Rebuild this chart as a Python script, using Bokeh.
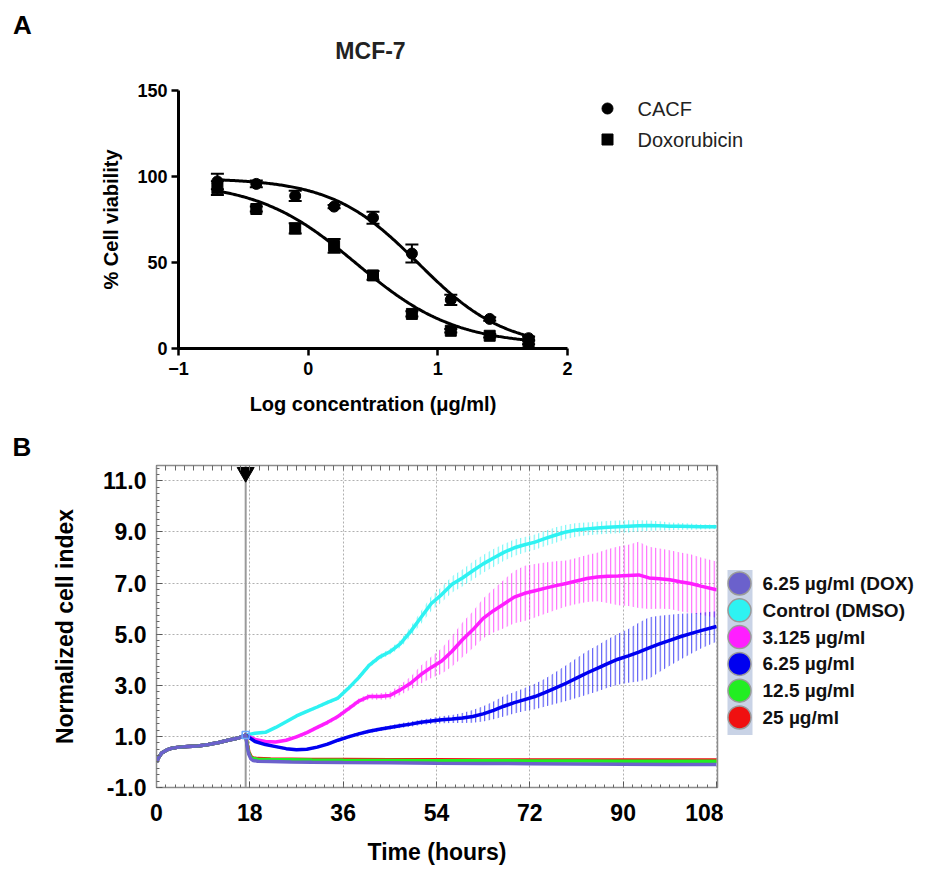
import numpy as np
from bokeh.plotting import figure
from bokeh.layouts import column, row
from bokeh.models import (Range1d, FixedTicker, Whisker, TeeHead, ColumnDataSource, LinearAxis,
                          PrintfTickFormatter, Span)
from bokeh.embed import file_html
from bokeh.resources import INLINE
from bokeh.core.properties import value

FONT = "Liberation Sans"

# ---------------- Panel A data ----------------
log_conc = [-0.7, -0.4, -0.1, 0.2, 0.5, 0.8, 1.1, 1.4, 1.7]
cacf_mean = [97.1, 95.7, 88.7, 82.5, 76.0, 55.2, 28.3, 17.2, 6.0]
cacf_err = [4.5, 2.0, 3.0, 1.0, 3.5, 5.2, 3.0, 1.0, 1.0]
dox_mean = [93.2, 81.1, 69.8, 59.6, 42.5, 20.1, 10.3, 7.4, 3.5]
dox_err = [4.0, 1.5, 3.0, 4.0, 2.5, 1.5, 1.0, 1.0, 1.0]
# four-parameter logistic fits (top, bottom, logIC50, hill slope)
cacf_fit = (99.0, 0.0, 0.85, 1.3)
dox_fit = (97.0, 2.0, 0.37, 1.14)
a_xticks = [-1, 0, 1, 2]
a_yticks = [0, 50, 100, 150]
a_legend_labels = ["CACF", "Doxorubicin"]
a_legend_markers = ["circle", "square"]

# ---------------- Panel B data ----------------
time_ticks = [0, 18, 36, 54, 72, 90, 108]
ci_ticks = [-1, 1, 3, 5, 7, 9, 11]
treat_time = 17.2
base_t = [0, 0.5, 1, 2, 3, 4, 6, 8, 10, 12, 14, 16, 17.2]
base_ci = [0.0, 0.2, 0.35, 0.47, 0.54, 0.57, 0.6, 0.62, 0.68, 0.76, 0.86, 0.95, 1.05]

post_t = [17.2, 19, 21, 23, 25, 27, 29, 31, 33, 35, 37, 39, 41, 43, 45, 47, 49, 51, 53, 55,
          57, 59, 61, 63, 65, 67, 69, 71, 73, 75, 77, 79, 81, 83, 85, 87, 89, 91, 93, 95,
          97, 99, 101, 103, 105, 108]
ctrl_ci = [1.05, 1.12, 1.16, 1.35, 1.57, 1.80, 1.98, 2.15, 2.33, 2.50, 2.88, 3.30, 3.78, 4.10,
           4.31, 4.62, 5.10, 5.65, 6.20, 6.55, 6.95, 7.20, 7.48, 7.75, 7.98, 8.20, 8.38, 8.50,
           8.60, 8.75, 8.88, 9.00, 9.08, 9.12, 9.15, 9.18, 9.20, 9.22, 9.24, 9.25, 9.24, 9.22,
           9.22, 9.21, 9.20, 9.20]
ctrl_sd = [0.02, 0.03, 0.04, 0.05, 0.05, 0.06, 0.06, 0.07, 0.07, 0.08, 0.08, 0.09, 0.1, 0.1,
           0.12, 0.15, 0.2, 0.25, 0.28, 0.3, 0.32, 0.33, 0.35, 0.35, 0.35, 0.33, 0.32, 0.3,
           0.3, 0.3, 0.3, 0.28, 0.27, 0.25, 0.25, 0.25, 0.25, 0.24, 0.22, 0.2, 0.18, 0.15,
           0.13, 0.12, 0.1, 0.08]
c3125_ci = [1.05, 0.88, 0.80, 0.78, 0.85, 0.98, 1.15, 1.35, 1.55, 1.78, 2.08, 2.38, 2.56, 2.56,
            2.60, 2.82, 3.08, 3.42, 3.70, 3.95, 4.33, 4.78, 5.17, 5.62, 5.92, 6.18, 6.45, 6.60,
            6.70, 6.80, 6.90, 6.98, 7.08, 7.18, 7.24, 7.27, 7.28, 7.30, 7.32, 7.20, 7.17, 7.13,
            7.05, 6.98, 6.88, 6.74]
c3125_sd = [0.02, 0.03, 0.04, 0.05, 0.05, 0.06, 0.07, 0.08, 0.08, 0.09, 0.1, 0.1, 0.12, 0.13,
            0.15, 0.2, 0.25, 0.35, 0.42, 0.5, 0.6, 0.68, 0.72, 0.78, 0.85, 0.95, 1.02, 1.08,
            1.05, 1.0, 0.95, 0.9, 0.9, 0.92, 0.95, 1.05, 1.15, 1.2, 1.3, 1.22, 1.18, 1.15,
            1.15, 1.15, 1.12, 1.1]
c625_ci = [1.05, 0.80, 0.68, 0.60, 0.52, 0.48, 0.50, 0.58, 0.70, 0.85, 0.98, 1.10, 1.20, 1.28,
           1.35, 1.42, 1.48, 1.55, 1.60, 1.65, 1.68, 1.72, 1.78, 1.88, 2.02, 2.18, 2.32, 2.44,
           2.56, 2.72, 2.90, 3.08, 3.28, 3.48, 3.66, 3.85, 4.02, 4.15, 4.30, 4.46, 4.62, 4.76,
           4.90, 5.02, 5.14, 5.30]
c625_sd = [0.02, 0.03, 0.04, 0.04, 0.05, 0.05, 0.05, 0.05, 0.06, 0.06, 0.06, 0.07, 0.07, 0.08,
           0.08, 0.09, 0.1, 0.1, 0.12, 0.14, 0.16, 0.2, 0.25, 0.3, 0.35, 0.4, 0.42, 0.45,
           0.5, 0.55, 0.62, 0.7, 0.78, 0.85, 0.9, 0.95, 1.0, 1.05, 1.15, 1.2, 1.1, 1.0,
           0.9, 0.8, 0.7, 0.6]
low_t = [17.2, 17.5, 17.8, 18.2, 18.6, 19.5, 22, 26, 30, 36, 45, 54, 63, 72, 81, 90, 99, 108]
c25_ci = [1.05, 0.7, 0.4, 0.22, 0.16, 0.13, 0.12, 0.11, 0.1, 0.1, 0.09, 0.09, 0.08, 0.08,
          0.08, 0.08, 0.08, 0.08]
c125_ci = [1.05, 0.65, 0.35, 0.18, 0.14, 0.11, 0.1, 0.09, 0.08, 0.07, 0.06, 0.05, 0.05, 0.04,
           0.04, 0.03, 0.03, 0.03]
dox_ci = [1.05, 0.6, 0.3, 0.12, 0.06, 0.03, 0.02, 0.0, -0.01, -0.02, -0.03, -0.05, -0.06,
          -0.07, -0.08, -0.09, -0.1, -0.1]

legend_labels = ["6.25 µg/ml (DOX)", "Control (DMSO)", "3.125 µg/ml", "6.25 µg/ml",
                 "12.5 µg/ml", "25 µg/ml"]
legend_colors = ["#6b61cc", "#2ef2f2", "#ff1eff", "#0000f0", "#22ee22", "#f01010"]
C_DOX, C_CTRL, C_3125, C_625, C_125, C_25 = legend_colors


def fourpl(x, top, bottom, logic50, hill):
    return bottom + (top - bottom) / (1 + 10 ** ((x - logic50) * hill))


def blank_fig(w, h, xr, yr):
    f = figure(width=w, height=h, output_backend="svg", toolbar_location=None,
               x_range=xr, y_range=yr, x_axis_type=None, y_axis_type=None, min_border=0,
               frame_align=False)
    f.outline_line_color = None
    f.grid.visible = False
    return f


# ================= header strip (panel letter + title) =================
header = blank_fig(927, 70, Range1d(0, 927), Range1d(70, 0))
header.text(x=[22], y=[24], text=["A"], text_font=value(FONT), text_font_style="bold",
            text_font_size="26px", text_align="center", text_baseline="middle",
            text_color="black")
header.text(x=[370], y=[50], text=["MCF-7"], text_font=value(FONT), text_font_style="bold",
            text_font_size="23px", text_align="center", text_baseline="middle",
            text_color="#222222")

# ================= Panel A =================
pa = figure(width=577, height=356, output_backend="svg", toolbar_location=None,
            x_range=Range1d(-1, 2), y_range=Range1d(0, 150),
            min_border_left=178, min_border_right=10, min_border_top=20, min_border_bottom=78)
pa.outline_line_color = None
pa.grid.visible = False
ax_ax, ax_ay = pa.xaxis[0], pa.yaxis[0]
for ax in (ax_ax, ax_ay):
    ax.axis_line_width = 3
    ax.axis_line_color = "black"
    ax.major_tick_line_width = 2.5
    ax.major_tick_line_color = "black"
    ax.major_tick_out = 7
    ax.major_tick_in = 0
    ax.minor_tick_line_color = None
    ax.major_label_text_font = FONT
    ax.major_label_text_font_style = "bold"
    ax.major_label_text_font_size = "18px"
    ax.major_label_text_color = "black"
    ax.axis_label_text_font = FONT
    ax.axis_label_text_font_style = "bold"
    ax.axis_label_text_font_size = "20px"
    ax.axis_label_text_color = "black"
ax_ax.ticker = FixedTicker(ticks=a_xticks)
ax_ay.ticker = FixedTicker(ticks=a_yticks)
ax_ax.axis_label = "Log concentration (μg/ml)"
ax_ay.axis_label = "% Cell viability"
ax_ax.major_label_standoff = 6
ax_ay.major_label_standoff = 4
ax_ax.axis_label_standoff = 15
ax_ay.axis_label_standoff = 12

xf = np.linspace(log_conc[0], log_conc[-1], 240)
pa.line(xf, fourpl(xf, *cacf_fit), line_color="black", line_width=3)
pa.line(xf, fourpl(xf, *dox_fit), line_color="black", line_width=3)

for mean, err in ((cacf_mean, cacf_err), (dox_mean, dox_err)):
    src = ColumnDataSource(dict(x=log_conc,
                                lo=[m - e for m, e in zip(mean, err)],
                                hi=[m + e for m, e in zip(mean, err)]))
    pa.add_layout(Whisker(source=src, base="x", lower="lo", upper="hi",
                          line_color="black", line_width=2,
                          upper_head=TeeHead(size=13, line_width=2, line_color="black"),
                          lower_head=TeeHead(size=13, line_width=2, line_color="black")))

pa.scatter(log_conc, cacf_mean, marker="circle", size=11, color="black")
pa.scatter(log_conc, dox_mean, marker="square", size=11, color="black")

# legend of panel A
na = len(a_legend_labels)
a_leg = blank_fig(350, 356, Range1d(0, 350), Range1d(10.258, -1.226))
a_leg.scatter(x=[30] * na, y=list(range(na)), marker=a_legend_markers, size=11, color="black")
a_leg.text(x=[60] * na, y=list(range(na)), text=a_legend_labels, text_font=value(FONT),
           text_font_size="20px", text_baseline="middle", text_color="#222222")

# ================= Panel B =================
pb = figure(width=723, height=441, output_backend="svg", toolbar_location=None,
            x_range=Range1d(0, 108.2), y_range=Range1d(-1, 11.6),
            min_border_left=156, min_border_right=6, min_border_top=39, min_border_bottom=78)
pb.outline_line_color = "#8c8c8c"
pb.outline_line_width = 1.5
bx, by = pb.xaxis[0], pb.yaxis[0]
minor_t = list(np.arange(0, 108.01, 1.8))
bx.ticker = FixedTicker(ticks=time_ticks, minor_ticks=minor_t)
by.ticker = FixedTicker(ticks=ci_ticks, minor_ticks=list(np.arange(-1, 11.6, 0.25)))
by.formatter = PrintfTickFormatter(format="%.1f")
top_ax = LinearAxis(ticker=FixedTicker(ticks=[], minor_ticks=minor_t))
pb.add_layout(top_ax, "above")
for ax in (bx, by, top_ax):
    ax.axis_line_color = "#8c8c8c"
    ax.major_tick_in = 6
    ax.major_tick_out = 0
    ax.minor_tick_in = 3
    ax.minor_tick_out = 0
    ax.major_tick_line_color = "#555555"
    ax.minor_tick_line_color = "#666666"
    ax.major_label_text_font = FONT
    ax.major_label_text_font_style = "bold"
    ax.major_label_text_color = "black"
    ax.major_label_text_font_size = "23px"
    ax.axis_label_text_font = FONT
    ax.axis_label_text_font_style = "bold"
    ax.axis_label_text_color = "black"
    ax.axis_label_text_font_size = "23px"
top_ax.minor_tick_in = 5
top_ax.major_label_standoff = 0
bx.major_label_standoff = 16
by.major_label_standoff = 10
bx.axis_label = "Time (hours)"
by.axis_label = "Normalized cell index"
bx.axis_label_standoff = 15
by.axis_label_standoff = 22
pb.grid.grid_line_color = "#b0b0b0"
pb.grid.grid_line_dash = "2 2"
pb.grid.grid_line_width = 1

pb.add_layout(Span(location=treat_time, dimension="height", line_color="#9a9a9a",
                   line_width=2, level="underlay"))

# error bands drawn as dense vertical bars (hatched)
for mean, sd, col in ((ctrl_ci, ctrl_sd, C_CTRL), (c3125_ci, c3125_sd, C_3125),
                      (c625_ci, c625_sd, C_625)):
    pb.varea(x=post_t, y1=[m - s for m, s in zip(mean, sd)],
             y2=[m + s for m, s in zip(mean, sd)], fill_color=None,
             hatch_pattern="vertical_line", hatch_color=col, hatch_alpha=0.75,
             hatch_scale=4.5, hatch_weight=1)

for post_x, post_y, col in ((post_t, ctrl_ci, C_CTRL), (post_t, c3125_ci, C_3125),
                            (post_t, c625_ci, C_625), (low_t, c25_ci, C_25),
                            (low_t, c125_ci, C_125), (low_t, dox_ci, C_DOX)):
    pb.line(base_t + post_x[1:], base_ci + post_y[1:], line_color=col, line_width=3.5)

pb.scatter([treat_time], [base_ci[-1]], marker="square", size=7, fill_color=None,
           line_color="#6aa8ff", line_width=1.5)
pb.scatter([treat_time], [11.33], marker="inverted_triangle", size=17, color="black")

pb.title.text = "B"
pb.title.align = "left"
pb.title.vertical_align = "top"
pb.title.offset = -144
pb.title.standoff = 4
pb.title.text_font = FONT
pb.title.text_font_style = "bold"
pb.title.text_font_size = "26px"
pb.title.text_color = "black"

# ---- legend for panel B ----
n = len(legend_labels)
lg = blank_fig(204, 441, Range1d(0, 204), Range1d(10.6, -5.86))
lg.quad(left=4, right=29, top=-0.5, bottom=5.65, fill_color="#c9d3e6", line_color=None)
idx = list(range(n))
lg.scatter(x=[16] * n, y=idx, size=23, fill_color=legend_colors, line_color="#9a9a9a",
           line_width=1.5)
lg.text(x=[39] * n, y=idx, text=legend_labels, text_font=value(FONT),
        text_font_style="bold", text_font_size="19px", text_baseline="middle",
        text_color="#111111")

layout = column(header, row(pa, a_leg), row(pb, lg))
open("out.html", "w").write(file_html(layout, INLINE))
